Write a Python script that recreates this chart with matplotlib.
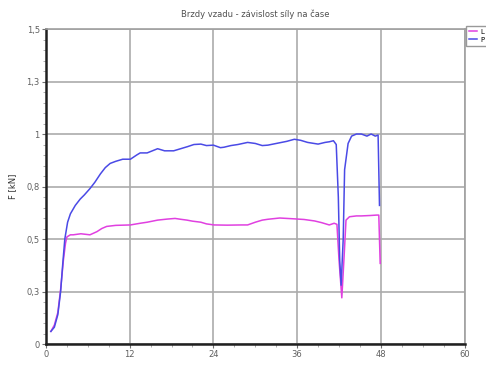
import numpy as np
import matplotlib.pyplot as plt
from matplotlib.ticker import FixedLocator, MultipleLocator

# Brzdy vzadu - levá a pravá strana
t_lev = [0.7, 1.2, 1.7, 2.1, 2.5, 2.8, 3.0, 3.5, 3.9, 5.0, 6.3, 7.3, 8.0, 8.7,
         10.0, 12.1, 13.5, 14.5, 16.0, 17.4, 18.5, 19.3, 20.2, 21.0, 22.2, 23.0,
         24.1, 26.0, 28.0, 28.9, 30.0, 31.0, 31.8, 33.5, 35.6, 37.0, 38.5, 39.5,
         40.6, 41.3, 41.7, 42.0, 42.4, 42.7, 43.0, 43.5, 44.5, 45.2, 46.5, 47.4,
         47.7, 47.9]
f_lev = [0.06, 0.09, 0.15, 0.26, 0.40, 0.48, 0.51, 0.52, 0.52, 0.525, 0.52,
         0.535, 0.55, 0.56, 0.565, 0.567, 0.575, 0.58, 0.59, 0.595, 0.598, 0.594,
         0.59, 0.585, 0.58, 0.572, 0.567, 0.566, 0.567, 0.567, 0.58, 0.59, 0.594,
         0.6, 0.596, 0.593, 0.586, 0.578, 0.567, 0.575, 0.57, 0.40, 0.22, 0.40,
         0.59, 0.606, 0.61, 0.61, 0.612, 0.614, 0.614, 0.384]

t_prav = [0.7, 1.2, 1.7, 2.1, 2.4, 2.7, 3.1, 3.5, 4.2, 4.9, 5.5, 6.3, 7.0, 7.8,
          8.5, 9.2, 10.0, 11.0, 12.1, 13.0, 13.5, 14.5, 16.0, 17.0, 18.3, 19.3,
          20.3, 21.2, 22.2, 23.0, 24.0, 25.0, 25.5, 26.5, 27.5, 28.9, 30.0, 31.0,
          31.8, 33.0, 34.5, 35.6, 36.5, 37.5, 39.0, 40.0, 40.6, 41.2, 41.6, 41.9,
          42.1, 42.3, 42.6, 42.8, 43.3, 43.8, 44.5, 45.2, 46.0, 46.6, 47.2, 47.6,
          47.8]
f_prav = [0.06, 0.08, 0.14, 0.25, 0.38, 0.50, 0.58, 0.62, 0.66, 0.69, 0.71, 0.74,
          0.77, 0.81, 0.84, 0.86, 0.87, 0.88, 0.88, 0.90, 0.91, 0.91, 0.93, 0.92,
          0.92, 0.93, 0.94, 0.95, 0.952, 0.945, 0.947, 0.935, 0.937, 0.945, 0.95,
          0.96, 0.955, 0.945, 0.947, 0.955, 0.965, 0.975, 0.97, 0.96, 0.952, 0.96,
          0.963, 0.968, 0.95, 0.70, 0.40, 0.28, 0.50, 0.83, 0.955, 0.99, 1.0, 1.0,
          0.99, 1.0, 0.99, 0.995, 0.66]

x_ticks = [0, 12, 24, 36, 48, 60]
y_ticks = [0, 0.25, 0.5, 0.75, 1.0, 1.25, 1.5]
y_labels = ['0', '0,3', '0,5', '0,8', '1', '1,3', '1,5']

fig = plt.figure(figsize=(4.86, 3.65), dpi=100)
ax = fig.add_axes([0.0946, 0.0575, 0.8614, 0.863])

ax.plot(t_lev, f_lev, color='#e040e0', lw=1.1, label='L')
ax.plot(t_prav, f_prav, color='#4a4ae6', lw=1.1, label='P')

ax.set_xlim(0, 60)
ax.set_ylim(0, 1.5)
ax.xaxis.set_major_locator(FixedLocator(x_ticks))
ax.xaxis.set_minor_locator(MultipleLocator(3))
ax.yaxis.set_major_locator(FixedLocator(y_ticks))
ax.yaxis.set_minor_locator(MultipleLocator(0.05))
ax.set_xticklabels([str(v) for v in x_ticks])
ax.set_yticklabels(y_labels)

ax.grid(True, which='major', color='#ababab', lw=1.2)
ax.set_axisbelow(True)
ax.tick_params(which='major', length=3, width=0.8, color='#707070',
               labelsize=6, labelcolor='#606060', pad=1.5)
ax.tick_params(which='minor', length=2, width=0.6, color='#a0a0a0')

for side in ['left', 'bottom']:
    ax.spines[side].set_linewidth(1.8)
    ax.spines[side].set_color('#202020')
for side in ['top', 'right']:
    ax.spines[side].set_linewidth(1.2)
    ax.spines[side].set_color('#a0a0a0')

ax.set_title('Brzdy vzadu - závislost síly na čase', fontsize=6,
             color='#505050', pad=9)
ax.set_ylabel('F [kN]', fontsize=6, color='#303030', labelpad=7)

fig.legend(loc='upper left', bbox_to_anchor=(466 / 486, 1 - 26 / 365),
           fontsize=5, frameon=True, fancybox=False, edgecolor='#808080',
           handlelength=1.2, handletextpad=0.4, borderpad=0.4,
           labelspacing=0.3, borderaxespad=0)

plt.savefig('out.png', dpi=100)
